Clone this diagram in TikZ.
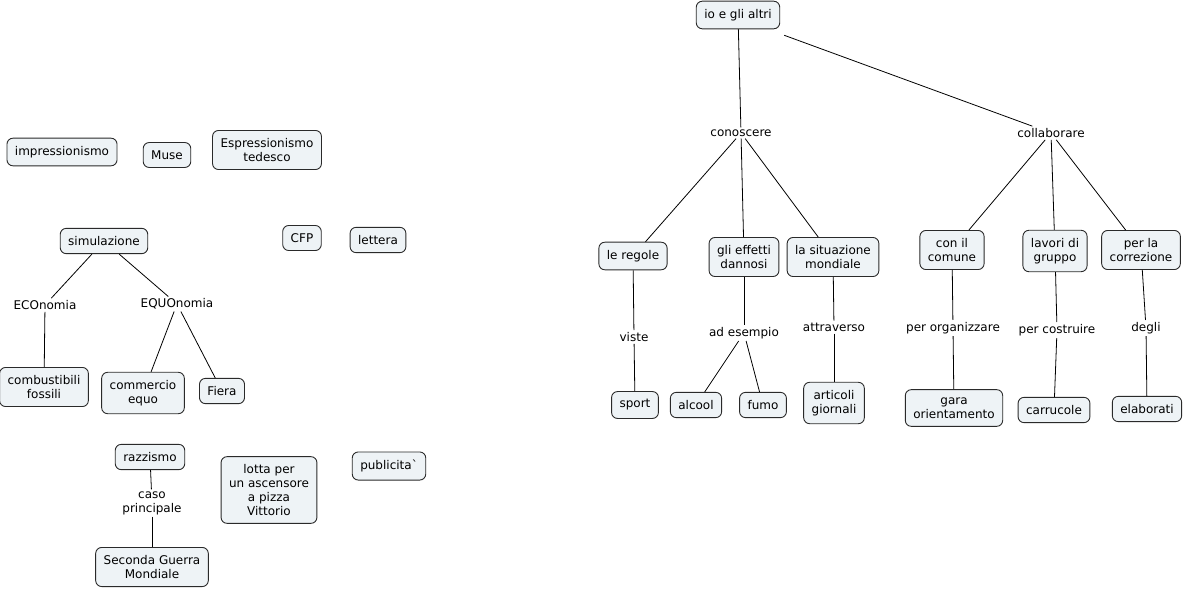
\documentclass[tikz,border=0pt]{standalone}
\usepackage{fontspec}
\setmainfont{DejaVu Sans}
\definecolor{boxfill}{HTML}{EEF3F6}
\definecolor{boxline}{HTML}{2A2A2A}
\begin{document}
\begin{tikzpicture}[x=1pt,y=-1pt,
  concept/.style={draw=boxline,fill=boxfill,rounded corners=6pt,line width=0.9pt,
    align=center,inner xsep=8pt,inner ysep=8pt,
    font=\fontsize{12}{13.8}\selectfont},
  link/.style={align=center,inner sep=2pt,fill=white,font=\fontsize{12}{13.8}\selectfont},
  conn/.style={draw=black,line width=0.8pt}]
\useasboundingbox (0,0) rectangle (1186,589);
% left
\node[concept] (imp) at (62,152) {impressionismo};
\node[concept] (muse) at (167,155) {Muse};
\node[concept] (esp) at (267,150) {Espressionismo\\tedesco};
\node[concept] (sim) at (104,241) {simulazione};
\node[concept] (cfp) at (302,238) {CFP};
\node[concept] (let) at (378,240) {lettera};
\node[link] (eco) at (45,305) {ECOnomia};
\node[link] (equ) at (177,304) {EQUOnomia};
\node[concept] (comb) at (44,387) {combustibili\\fossili};
\node[concept] (comm) at (143,393) {commercio\\equo};
\node[concept] (fiera) at (222,391) {Fiera};
\node[concept] (razz) at (150,457) {razzismo};
\node[link] (caso) at (152,503) {caso\\principale};
\node[concept] (sgm) at (152,567) {Seconda Guerra\\Mondiale};
\node[concept] (lotta) at (269,490) {lotta per\\un ascensore\\a pizza\\Vittorio};
\node[concept] (pub) at (389,466) {publicita\textasciigrave};
\draw[conn] (sim) -- (eco);
\draw[conn] (sim) -- (equ);
\draw[conn] (eco) -- (comb);
\draw[conn] (equ) -- (comm);
\draw[conn] (equ) -- (fiera);
\draw[conn] (razz) -- (caso);
\draw[conn] (caso) -- (sgm);
% right
\node[concept] (io) at (738,15) {io e gli altri};
\node[link] (con) at (741,133) {conoscere};
\node[link] (col) at (1051,133) {collaborare};
\node[concept] (reg) at (633,256) {le regole};
\node[concept] (eff) at (744,257) {gli effetti\\dannosi};
\node[concept] (sit) at (833,257) {la situazione\\mondiale};
\node[concept] (com) at (952,250) {con il\\comune};
\node[concept] (lav) at (1055,251) {lavori di\\gruppo};
\node[concept] (cor) at (1141,250) {per la\\correzione};
\node[link] (vis) at (634,337) {viste};
\node[link] (ade) at (744,333) {ad esempio};
\node[link] (att) at (834,327) {attraverso};
\node[link] (porg) at (953,328) {per organizzare};
\node[link] (pcos) at (1057,330) {per costruire};
\node[link] (deg) at (1146,328) {degli};
\node[concept] (spo) at (635,405) {sport};
\node[concept] (alc) at (696,405) {alcool};
\node[concept] (fum) at (763,405) {fumo};
\node[concept] (art) at (834,403) {articoli\\giornali};
\node[concept] (gar) at (954,408) {gara\\orientamento};
\node[concept] (car) at (1054,410) {carrucole};
\node[concept] (ela) at (1147,409) {elaborati};
\draw[conn] (io) -- (con);
\path (io.south east) ++(4,6) coordinate (ioc);
\draw[conn] (ioc) -- (col);
\draw[conn] (con) -- (reg);
\draw[conn] (con) -- (eff);
\draw[conn] (con) -- (sit);
\draw[conn] (col) -- (com);
\draw[conn] (col) -- (lav);
\draw[conn] (col) -- (cor);
\draw[conn] (reg) -- (vis);
\draw[conn] (vis) -- (spo);
\draw[conn] (eff) -- (ade);
\draw[conn] (ade) -- (alc);
\draw[conn] (ade) -- (fum);
\draw[conn] (sit) -- (att);
\draw[conn] (att) -- (art);
\draw[conn] (com) -- (porg);
\draw[conn] (porg) -- (gar);
\draw[conn] (lav) -- (pcos);
\draw[conn] (pcos) -- (car);
\draw[conn] (cor) -- (deg);
\draw[conn] (deg) -- (ela);
\end{tikzpicture}
\end{document}
